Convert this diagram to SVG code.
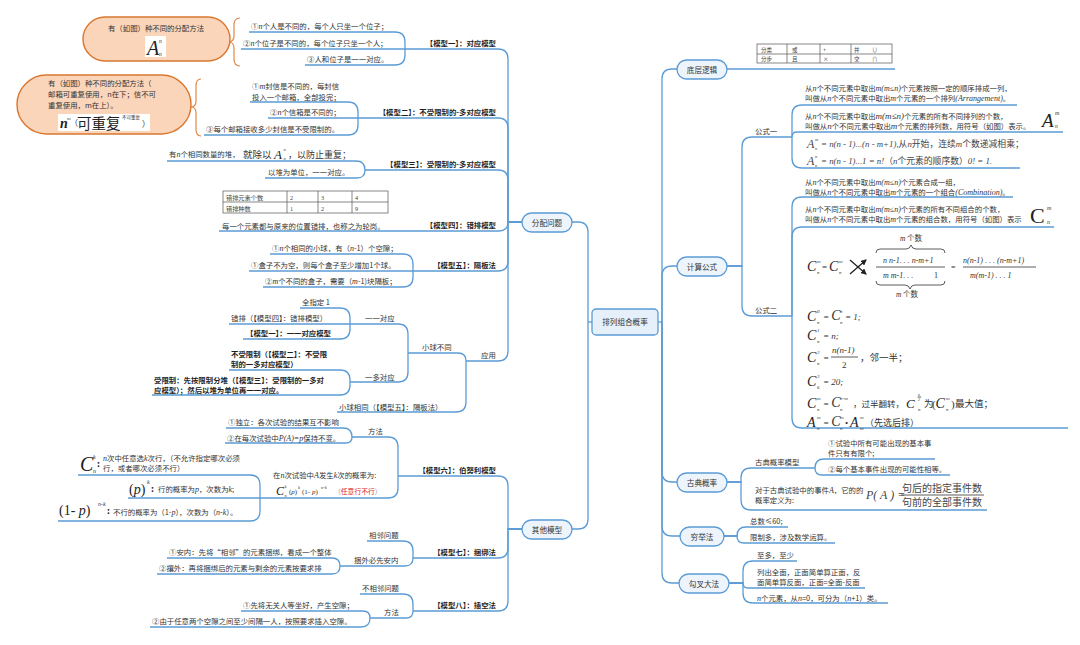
<svg xmlns="http://www.w3.org/2000/svg" width="1080" height="645" viewBox="0 0 1080 645">
<style>
text{font-family:"Noto Sans CJK SC","Liberation Sans",sans-serif;font-size:7.4px;fill:#333}
.b{font-weight:bold;fill:#1f1f1f}
.m{font-family:"Liberation Serif",serif;font-style:italic;font-size:8px}
.fi{font-family:"Liberation Serif",serif;font-style:italic}
.fr{font-family:"Liberation Serif",serif}
.ln{fill:none;stroke:#5b9bd5;stroke-width:1.3}
.nd{fill:#edf4fb;stroke:#5b9bd5;stroke-width:1.3}
.nt{font-size:7.6px;text-anchor:middle}
.or{fill:#fbd5b9;stroke:#d9772f;stroke-width:1.4}
.br{fill:none;stroke:#e0884a;stroke-width:1.2}
.tb{fill:none;stroke:#555;stroke-width:0.7}
.tt{font-size:6.2px;fill:#444}
.red{fill:#e02020}
.k{fill:none;stroke:#333;stroke-width:0.8}
</style>
<defs>
<marker id="ah" markerWidth="6" markerHeight="6" refX="5" refY="3" orient="auto" markerUnits="userSpaceOnUse"><path d="M0,0 L6,3 L0,6 z" fill="#222"/></marker>
</defs>
<rect width="1080" height="645" fill="#fff"/>

<g id="connectors" class="ln">
<path d="M592,322 H588"/>
<path d="M588,322 V232 Q588,222 578,222 H572"/>
<path d="M588,322 V519 Q588,529 578,529 H572"/>
<path d="M658,322 H662"/>
<path d="M662,322 V79 Q662,69 672,69 H677"/>
<path d="M662,322 V276 Q662,266 672,266 H677"/>
<path d="M662,322 V472 Q662,482 672,482 H677"/>
<path d="M662,322 V526 Q662,536 672,536 H680"/>
<path d="M662,322 V573 Q662,583 672,583 H679"/>
<path d="M522,222 H508 V59 Q508,49 498,49 H405"/>
<path d="M522,222 H508 V128 Q508,118 498,118 H358"/>
<path d="M522,222 H508 V180 Q508,170 498,170 H365"/>
<path d="M522,222 H508 Q508,231 499,231 H219"/>
<path d="M522,222 H508 V261 Q508,271 498,271 H413"/>
<path d="M522,222 H508 V351 Q508,361 498,361 H466"/>
<path d="M405,49 V42 Q405,32 395,32 H249"/>
<path d="M405,49 H241"/>
<path d="M405,49 V55 Q405,65 395,65 H305"/>
<path d="M358,118 V112 Q358,102 348,102 H250"/>
<path d="M358,118 H268"/>
<path d="M358,118 V125 Q358,135 348,135 H204"/>
<path d="M365,170 Q365,161 356,161 H167"/>
<path d="M365,170 Q365,178 357,178 H265"/>
<path d="M413,271 V264 Q413,254 403,254 H270"/>
<path d="M413,271 H249"/>
<path d="M413,271 V277 Q413,287 403,287 H263"/>
<path d="M466,361 Q466,353 458,353 H408"/>
<path d="M466,361 V402 Q466,412 456,412 H337"/>
<path d="M408,353 V334 Q408,324 398,324 H350"/>
<path d="M408,353 V372 Q408,382 398,382 H350"/>
<path d="M350,324 V318 Q350,308 340,308 H300"/>
<path d="M350,324 H229"/>
<path d="M350,324 V329 Q350,339 340,339 H243"/>
<path d="M350,382 V380 Q350,370 340,370 H229"/>
<path d="M350,382 V385 Q350,395 340,395 H152"/>
<path d="M522,529 H508 V486 Q508,476 498,476 H398"/>
<path d="M522,529 H508 V548 Q508,558 498,558 H413"/>
<path d="M522,529 H508 V601 Q508,611 498,611 H413"/>
<path d="M398,476 V447 Q398,437 388,437 H352"/>
<path d="M398,476 V488 Q398,498 388,498 H260"/>
<path d="M352,437 Q352,428 343,428 H226"/>
<path d="M352,437 Q352,443 346,443 H225"/>
<path d="M260,498 V485 Q260,475 250,475 H78"/>
<path d="M260,498 H128"/>
<path d="M260,498 V511 Q260,521 250,521 H58"/>
<path d="M413,558 V551 Q413,541 403,541 H367"/>
<path d="M413,558 Q413,566 405,566 H340"/>
<path d="M340,566 Q340,558 332,558 H167"/>
<path d="M340,566 Q340,574 332,574 H157"/>
<path d="M413,611 V604 Q413,594 403,594 H360"/>
<path d="M413,611 Q413,618 406,618 H370"/>
<path d="M370,618 Q370,611 363,611 H241"/>
<path d="M370,618 Q370,627 361,627 H150"/>
<path d="M727,69 H895"/>
<path d="M727,266 H742 V147 Q742,137 752,137 H792"/>
<path d="M727,266 H742 V306 Q742,316 752,316 H792"/>
<path d="M792,137 V115 Q792,105 802,105 H1017"/>
<path d="M792,137 Q792,132 797,132 H1063"/>
<path d="M792,137 V158 Q792,168 802,168 H1020"/>
<path d="M792,316 V207 Q792,197 802,197 H1013"/>
<path d="M792,316 V237 Q792,227 802,227 H1054"/>
<path d="M792,316 V418 Q792,428 802,428 H1068"/>
<path d="M727,482 H741 V478 Q741,468 751,468 H815"/>
<path d="M727,482 H741 V500 Q741,510 751,510 H987"/>
<path d="M815,468 Q815,459 824,459 H935"/>
<path d="M815,468 Q815,475 822,475 H950"/>
<path d="M724,536 H737 Q737,527 746,527 H788"/>
<path d="M724,536 H737 Q737,543 744,543 H835"/>
<path d="M729,583 H743 V571 Q743,561 753,561 H797"/>
<path d="M729,583 H743 Q743,588 748,588 H865"/>
<path d="M729,583 H743 V593 Q743,603 753,603 H888"/>
</g>

<g id="root">
<rect x="592" y="309" width="66" height="26" rx="4" fill="#e6f0fa" stroke="#5b9bd5" stroke-width="1.3"/>
<text x="625" y="325" class="nt">排列组合概率</text>
</g>
<g id="fenpei">
<rect class="nd" x="522" y="213" width="50" height="19" rx="9.5"/>
<text x="547" y="225.5" class="nt">分配问题</text>
</g>
<g id="qita">
<rect class="nd" x="522" y="520" width="50" height="19" rx="9.5"/>
<text x="547" y="532.5" class="nt">其他模型</text>
</g>
<g id="diceng">
<rect class="nd" x="677" y="60" width="50" height="19" rx="9.5"/>
<text x="702" y="72.5" class="nt">底层逻辑</text>
</g>
<g id="jisuan">
<rect class="nd" x="677" y="257" width="50" height="19" rx="9.5"/>
<text x="702" y="269.5" class="nt">计算公式</text>
</g>
<g id="gudian">
<rect class="nd" x="677" y="473" width="50" height="19" rx="9.5"/>
<text x="702" y="485.5" class="nt">古典概率</text>
</g>
<g id="qiongju">
<rect class="nd" x="680" y="527" width="44" height="19" rx="9.5"/>
<text x="702" y="539.5" class="nt">穷举法</text>
</g>
<g id="gouca">
<rect class="nd" x="679" y="574" width="50" height="19" rx="9.5"/>
<text x="704" y="586.5" class="nt">勾叉大法</text>
</g>

<g id="model1">
<text x="496" y="46" text-anchor="end" class="b">【模型一】：对应模型</text>
<text x="251" y="29">①<tspan class="m">n</tspan>个人是不同的，每个人只坐一个位子；</text>
<text x="243" y="46">②<tspan class="m">n</tspan>个位子是不同的，每个位子只坐一个人；</text>
<text x="307" y="62">③人和位子是一一对应。</text>
</g>
<g id="orange1">
<path class="br" d="M240,18 Q234,18 234,25 L234,36 Q234,42 228,42 Q234,42 234,48 L234,59 Q234,66 240,66"/>
<rect class="or" x="83" y="17" width="147" height="44" rx="22"/>
<text x="156" y="31" text-anchor="middle">有（如图）种不同的分配方法</text>
<rect x="145" y="36" width="21" height="21" fill="#fff"/>
<text x="147" y="55" class="fi" style="font-size:20px;fill:#222">A</text>
<text x="159" y="43" class="fi" style="font-size:5.5px">n</text>
<text x="159" y="56" class="fi" style="font-size:5.5px">n</text>
</g>

<g id="model2">
<text x="496" y="115" text-anchor="end" class="b">【模型二】：不受限制的-多对应模型</text>
<text x="252" y="89">①<tspan class="m">m</tspan>封信是不同的，每封信</text>
<text x="252" y="99.5">投入一个邮箱，全部投完；</text>
<text x="270" y="115">②<tspan class="m">n</tspan>个信箱是不同的；</text>
<text x="206" y="131.5">③每个邮箱接收多少封信是不受限制的。</text>
</g>
<g id="orange2">
<path class="br" d="M201,79 Q196,79 196,86 L196,101 Q196,107 191,107 Q196,107 196,113 L196,129 Q196,136 201,136"/>
<rect class="or" x="17" y="75" width="174" height="59" rx="29.5"/>
<text x="48" y="86">有（如图）种不同的分配方法（</text>
<text x="48" y="97">邮箱可重复使用，n在下；信不可</text>
<text x="48" y="107.5">重复使用，m在上）。</text>
<rect x="58" y="114" width="92" height="17" fill="#fff"/>
<text x="60" y="128" class="fi" style="font-size:14px;font-weight:bold;fill:#222">n</text>
<text x="67" y="120" class="fi" style="font-size:5px">m</text>
<text x="70" y="126" style="font-size:8px">（</text>
<text x="77" y="129" style="font-size:14.5px;fill:#222">可重复</text>
<text x="122" y="119" style="font-size:4.5px">不可重复</text>
<text x="142" y="127" style="font-size:8px">）</text>
</g>

<g id="model3">
<text x="496" y="167" text-anchor="end" class="b">【模型三】：受限制的-多对应模型</text>
<text x="169" y="157">有<tspan class="m">n</tspan>个相同数量的堆，</text>
<text x="243" y="158" style="font-size:9.5px">就除以</text>
<text x="274" y="159" class="fi" style="font-size:13px;fill:#222">A</text>
<text x="283.5" y="151" class="fi" style="font-size:4.5px">n</text>
<text x="283.5" y="160" class="fi" style="font-size:4.5px">n</text>
<text x="288" y="158" style="font-size:9px">，以防止重复；</text>
<text x="268" y="175">以堆为单位，一一对应。</text>
</g>

<g id="model4">
<text x="496" y="228" text-anchor="end" class="b">【模型四】：错排模型</text>
<text x="222" y="229">每一个元素都与原来的位置错排，也称之为轮岗。</text>
<rect class="tb" x="223" y="191" width="165" height="22"/>
<path class="tb" d="M223,202 H388 M287,191 V213 M318,191 V213 M352,191 V213"/>
<text x="226" y="199.5" class="tt">错排元素个数</text>
<text x="290" y="199.5" class="tt fr">2</text>
<text x="321" y="199.5" class="tt fr">3</text>
<text x="355" y="199.5" class="tt fr">4</text>
<text x="226" y="210.5" class="tt">错排种数</text>
<text x="290" y="210.5" class="tt fr">1</text>
<text x="321" y="210.5" class="tt fr">2</text>
<text x="355" y="210.5" class="tt fr">9</text>
</g>

<g id="model5">
<text x="496" y="268" text-anchor="end" class="b">【模型五】：隔板法</text>
<text x="272" y="251">①<tspan class="m">n</tspan>个相同的小球，有（<tspan class="m">n</tspan>-1）个空隙；</text>
<text x="251" y="268">①盒子不为空，则每个盒子至少增加1个球。</text>
<text x="265" y="284">②<tspan class="m">m</tspan>个不同的盒子，需要（<tspan class="m">m</tspan>-1)块隔板；</text>
</g>

<g id="yingyong">
<text x="481" y="358">应用</text>
<text x="422" y="350">小球不同</text>
<text x="339" y="409.5">小球相同（【模型五】：隔板法）</text>
<text x="365" y="321">一一对应</text>
<text x="365" y="379.5">一多对应</text>
<text x="302" y="304.5">全指定  1</text>
<text x="231" y="320.5">错排（【模型四】：错排模型）</text>
<text x="246" y="336" class="b">【模型一】：一一对应模型</text>
<text x="231" y="356.5" class="b">不受限制（【模型二】：不受限</text>
<text x="231" y="367" class="b">制的一多对应模型）</text>
<text x="154" y="383" class="b">受限制：先按限制分堆（【模型三】：受限制的一多对</text>
<text x="154" y="393" class="b">应模型）；然后以堆为单位再一一对应。</text>
</g>

<g id="model6">
<text x="496" y="473" text-anchor="end" class="b">【模型六】：伯努利模型</text>
<text x="368" y="434">方法</text>
<text x="228" y="425">①独立：各次试验的结果互不影响</text>
<text x="227" y="440.5">②在每次试验中<tspan class="m">P(A)=p</tspan>保持不变。</text>
<text x="273" y="478">在<tspan class="m">n</tspan>次试验中<tspan class="m">A</tspan>发生<tspan class="m">k</tspan>次的概率为:</text>
<text x="276" y="495" class="fi" style="font-size:12px;fill:#222">C</text>
<text x="284.5" y="487.5" class="fi" style="font-size:4.5px">k</text>
<text x="284.5" y="496.5" class="fi" style="font-size:4.5px">n</text>
<text x="289" y="494" class="fr" style="font-size:7px">(<tspan class="fi">p</tspan>)</text>
<text x="298" y="489" class="fi" style="font-size:4.5px">k</text>
<text x="302" y="494" class="fr" style="font-size:7px">(1- <tspan class="fi">p</tspan>)</text>
<text x="321" y="489" class="fi" style="font-size:4.5px">n-k</text>
<text x="334" y="494" style="font-size:6.8px;fill:#999">（<tspan class="red">任意行不行</tspan>）</text>
<text x="80" y="471" class="fi" style="font-size:20px;fill:#222">C</text>
<text x="93" y="459" class="fi" style="font-size:6px">k</text>
<text x="93" y="473" class="fi" style="font-size:6px">n</text>
<text x="97" y="467" class="b" style="font-size:9px">:</text>
<text x="103" y="461"><tspan class="m">n</tspan>次中任意选<tspan class="m">k</tspan>次行，（不允许指定哪次必须</text>
<text x="103" y="471">行，或者哪次必须不行）</text>
<text x="129" y="494" class="fr" style="font-size:14px;fill:#222">(<tspan class="fi">p</tspan>)</text>
<text x="147" y="484" class="fi" style="font-size:6px">k</text>
<text x="151" y="492" class="b" style="font-size:9px">:</text>
<text x="158" y="491.5">行的概率为<tspan class="m">p</tspan>，次数为<tspan class="m">k</tspan>;</text>
<text x="59" y="515" class="fr" style="font-size:14px;fill:#222">(1- <tspan class="fi">p</tspan>)</text>
<text x="98" y="506" class="fi" style="font-size:6px">n-k</text>
<text x="107" y="514" class="b" style="font-size:9px">:</text>
<text x="113" y="514.5">不行的概率为（1-<tspan class="m">p</tspan>），次数为（<tspan class="m">n-k</tspan>）。</text>
</g>

<g id="model7">
<text x="496" y="555" text-anchor="end" class="b">【模型七】：捆绑法</text>
<text x="369" y="538">相邻问题</text>
<text x="354" y="563">捆外必先安内</text>
<text x="169" y="555">①安内：先将“相邻”的元素捆绑，看成一个整体</text>
<text x="159" y="570.5">②攘外：再将捆绑后的元素与剩余的元素按要求排</text>
</g>

<g id="model8">
<text x="496" y="608" text-anchor="end" class="b">【模型八】：插空法</text>
<text x="362" y="591">不相邻问题</text>
<text x="384" y="615">方法</text>
<text x="243" y="608">①先将无关人等坐好，产生空隙；</text>
<text x="152" y="624">②由于任意两个空隙之间至少间隔一人，按照要求插入空隙。</text>
</g>

<g id="diceng-table">
<rect class="tb" x="757" y="44" width="135" height="19"/>
<path class="tb" d="M757,54 H892 M787,44 V63 M820,44 V63 M851,44 V63"/>
<text x="761" y="51.5" class="tt" style="font-size:5.5px">分类</text>
<text x="792" y="51.5" class="tt" style="font-size:5.5px">或</text>
<text x="823" y="51.5" class="tt" style="font-size:5.5px">+</text>
<text x="854" y="51.5" class="tt" style="font-size:5.5px">并</text>
<text x="872" y="51.5" class="tt" style="font-size:5.5px">∪</text>
<text x="761" y="61" class="tt" style="font-size:5.5px">分步</text>
<text x="792" y="61" class="tt" style="font-size:5.5px">且</text>
<text x="823" y="61" class="tt" style="font-size:5.5px">×</text>
<text x="854" y="61" class="tt" style="font-size:5.5px">交</text>
<text x="872" y="61" class="tt" style="font-size:5.5px">∩</text>
</g>

<g id="gongshi1">
<text x="755" y="134">公式一</text>
<text x="805" y="91">从<tspan class="m">n</tspan>个不同元素中取出<tspan class="m">m(m≤n)</tspan>个元素按照一定的顺序排成一列，</text>
<text x="805" y="101">叫做从<tspan class="m">n</tspan>个不同元素中取出<tspan class="m">m</tspan>个元素的一个排列<tspan class="m">(Arrangement)</tspan>。</text>
<text x="805" y="119">从<tspan class="m">n</tspan>个不同元素中取出<tspan class="fi" style="font-size:9px">m(m≤n)</tspan>个元素的所有不同排列的个数，</text>
<text x="805" y="129">叫做从<tspan class="fi" style="font-size:9px">n</tspan>个不同元素中取出<tspan class="fi" style="font-size:9px">m</tspan>个元素的排列数，用符号（如图）表示。</text>
<text x="1042" y="127" class="fi" style="font-size:19px;fill:#222">A</text>
<text x="1055" y="115" class="fi" style="font-size:6px">m</text>
<text x="1055" y="128" class="fi" style="font-size:5.5px">n</text>
<text x="807" y="148" class="fi" style="font-size:12px;fill:#444">A</text>
<text x="815" y="141" class="fi" style="font-size:4.5px">m</text>
<text x="815" y="150" class="fi" style="font-size:4.5px">n</text>
<text x="821" y="147" style="font-size:8.8px;fill:#444"><tspan class="fi">= n(n - 1)...(n - m+1),</tspan>从<tspan class="fi">n</tspan>开始，连续<tspan class="fi">m</tspan>个数递减相乘；</text>
<text x="807" y="165" class="fi" style="font-size:12px;fill:#444">A</text>
<text x="815" y="158" class="fi" style="font-size:4.5px">n</text>
<text x="815" y="167" class="fi" style="font-size:4.5px">n</text>
<text x="821" y="164" style="font-size:8.8px;fill:#444"><tspan class="fi">= n(n - 1)...1 = n!</tspan>（<tspan class="fi">n</tspan>个元素的顺序数）<tspan class="fi">0! = 1.</tspan></text>
</g>

<g id="gongshi2">
<text x="755" y="313">公式二</text>
<text x="805" y="185">从<tspan class="m">n</tspan>个不同元素中取出<tspan class="m">m(m≤n)</tspan>个元素合成一组，</text>
<text x="805" y="195">叫做从<tspan class="m">n</tspan>个不同元素中取出<tspan class="m">m</tspan>个元素的一个组合<tspan class="m">(Combination)</tspan>。</text>
<text x="805" y="212">从<tspan class="m">n</tspan>个不同元素中取出<tspan class="m">m(m≤n)</tspan>个元素的所有不同组合的个数，</text>
<text x="805" y="222">叫做从<tspan class="m">n</tspan>个不同元素中取出<tspan class="m">m</tspan>个元素的组合数，用符号（如图）表示</text>
<text x="1030" y="223" class="fr" style="font-size:22px;fill:#222">C</text>
<text x="1047" y="210" class="fi" style="font-size:6px">m</text>
<text x="1047" y="224" class="fi" style="font-size:6px">n</text>
</g>

<g id="formula-block">
<text x="807" y="271" class="fi" style="font-size:14px;fill:#222">C</text>
<text x="817" y="263" class="fi" style="font-size:5px">m</text>
<text x="817" y="274" class="fi" style="font-size:5px">n</text>
<text x="822" y="270" class="fr" style="font-size:9px">=</text>
<text x="829" y="271" class="fi" style="font-size:14px;fill:#222">C</text>
<text x="839" y="263" class="fi" style="font-size:5px">m</text>
<text x="839" y="274" class="fi" style="font-size:5px">n</text>
<path d="M850,260 L866,274" stroke="#222" stroke-width="1.3" marker-end="url(#ah)"/>
<path d="M850,274 L866,260" stroke="#222" stroke-width="1.3" marker-end="url(#ah)"/>
<text x="900" y="241" style="font-size:7.5px"><tspan class="fi">m</tspan> 个数</text>
<path class="k" d="M876,253 Q876,249 880,249 L906,249 Q910,249 911,245 Q912,249 916,249 L941,249 Q945,249 945,253"/>
<text x="883" y="263" class="fi" style="font-size:8px">n n-1. . . n-m+1</text>
<path class="k" d="M876,267 H945"/>
<text x="883" y="278" class="fi" style="font-size:8px">m m-1. . .</text>
<text x="934" y="278" class="fr" style="font-size:8px">1</text>
<path class="k" d="M876,281 Q876,285 880,285 L905,285 Q909,285 910,289 Q911,285 915,285 L941,285 Q945,285 945,281"/>
<text x="896" y="296.5" style="font-size:7.5px"><tspan class="fi">m</tspan> 个数</text>
<text x="951" y="270" class="fr" style="font-size:8px">=</text>
<text x="963" y="263" class="fi" style="font-size:8px">n(n-1) . . . (n-m+1)</text>
<path class="k" d="M963,267 H1036"/>
<text x="970" y="278" class="fi" style="font-size:8px">m(m-1) . . . 1</text>

<text x="807" y="321" class="fi" style="font-size:14px;fill:#222">C</text>
<text x="817" y="313" class="fi" style="font-size:5px">0</text>
<text x="817" y="324" class="fi" style="font-size:5px">n</text>
<text x="823" y="320" class="fi" style="font-size:9px">= <tspan style="font-size:14px">C</tspan></text>
<text x="840" y="313" class="fi" style="font-size:5px">n</text>
<text x="840" y="324" class="fi" style="font-size:5px">n</text>
<text x="845" y="320" class="fi" style="font-size:9px">= 1;</text>

<text x="807" y="340" class="fi" style="font-size:14px;fill:#222">C</text>
<text x="817" y="332" class="fi" style="font-size:5px">1</text>
<text x="817" y="343" class="fi" style="font-size:5px">n</text>
<text x="823" y="339" class="fi" style="font-size:9px">= n;</text>

<text x="807" y="362" class="fi" style="font-size:14px;fill:#222">C</text>
<text x="817" y="354" class="fi" style="font-size:5px">2</text>
<text x="817" y="365" class="fi" style="font-size:5px">n</text>
<text x="823" y="361" class="fi" style="font-size:9px">=</text>
<text x="832" y="353" class="fi" style="font-size:9px">n(n-1)</text>
<path class="k" d="M831,357 H858"/>
<text x="842" y="368" class="fr" style="font-size:9px">2</text>
<text x="860" y="361" style="font-size:9.5px">，邻一半；</text>

<text x="807" y="386" class="fi" style="font-size:14px;fill:#222">C</text>
<text x="817" y="378" class="fi" style="font-size:5px">3</text>
<text x="817" y="389" class="fi" style="font-size:5px">6</text>
<text x="823" y="385" class="fi" style="font-size:9px">= 20;</text>

<text x="807" y="408" class="fi" style="font-size:14px;fill:#222">C</text>
<text x="817" y="400" class="fi" style="font-size:5px">m</text>
<text x="817" y="411" class="fi" style="font-size:5px">n</text>
<text x="823" y="407" class="fi" style="font-size:9px">= <tspan style="font-size:14px">C</tspan></text>
<text x="840" y="400" class="fi" style="font-size:5px">n-m</text>
<text x="840" y="411" class="fi" style="font-size:5px">n</text>
<text x="853" y="407" style="font-size:8.5px">，过半翻转，</text>
<text x="906" y="408" class="fi" style="font-size:13px;fill:#222">C</text>
<text x="918" y="395.5" class="fi" style="font-size:4px">n</text>
<path class="k" d="M917.5,397 H921" stroke-width="0.4"/>
<text x="918" y="401" class="fi" style="font-size:4px">2</text>
<text x="918" y="411" class="fi" style="font-size:5px">n</text>
<text x="924" y="407" style="font-size:9.5px">为</text>
<text x="932" y="408" class="fr" style="font-size:11px">(</text>
<text x="935.5" y="408" class="fi" style="font-size:14px;fill:#222">C</text>
<text x="946" y="400" class="fi" style="font-size:5px">m</text>
<text x="946" y="411" class="fi" style="font-size:5px">n</text>
<text x="951" y="408" class="fr" style="font-size:11px">)</text>
<text x="955" y="407" style="font-size:9.5px">最大值；</text>

<text x="807" y="427" class="fi" style="font-size:14px;fill:#222">A</text>
<text x="817" y="419" class="fi" style="font-size:5px">m</text>
<text x="817" y="430" class="fi" style="font-size:5px">n</text>
<text x="823" y="426" class="fi" style="font-size:9px">= <tspan style="font-size:14px">C</tspan></text>
<text x="840" y="419" class="fi" style="font-size:5px">m</text>
<text x="840" y="430" class="fi" style="font-size:5px">n</text>
<text x="845" y="426" class="fr" style="font-size:9px">•</text>
<text x="850" y="427" class="fi" style="font-size:14px;fill:#222">A</text>
<text x="860" y="419" class="fi" style="font-size:5px">m</text>
<text x="860" y="430" class="fi" style="font-size:5px">m</text>
<text x="865" y="426" style="font-size:9px">（先选后排）</text>
</g>

<g id="gudian-children">
<text x="755" y="465">古典概率模型</text>
<text x="828" y="446">①试验中所有可能出现的基本事</text>
<text x="828" y="456">件只有有限个;</text>
<text x="828" y="472">②每个基本事件出现的可能性相等。</text>
<text x="755" y="493">对于古典试验中的事件<tspan class="m">A</tspan>，它的的</text>
<text x="755" y="503">概率定义为:</text>
<text x="866" y="499" class="fi" style="font-size:12px;fill:#444">P( A ) =</text>
<text x="902" y="491.5" style="font-size:10px;fill:#444">句后的指定事件数</text>
<path class="k" d="M901,495 H984"/>
<text x="902" y="505.5" style="font-size:10px;fill:#444">句前的全部事件数</text>
</g>

<g id="qiongju-children">
<text x="750" y="524">总数≤60;</text>
<text x="750" y="540">限制多，涉及数学运算。</text>
</g>

<g id="gouca-children">
<text x="757" y="558">至多，至少</text>
<text x="757" y="575">列出全面，正面简单算正面，反</text>
<text x="757" y="585">面简单算反面，正面=全面-反面</text>
<text x="757" y="600.5"><tspan class="m">n</tspan>个元素，从<tspan class="m">n</tspan>=0，可分为（<tspan class="m">n</tspan>+1）类。</text>
</g>
</svg>
